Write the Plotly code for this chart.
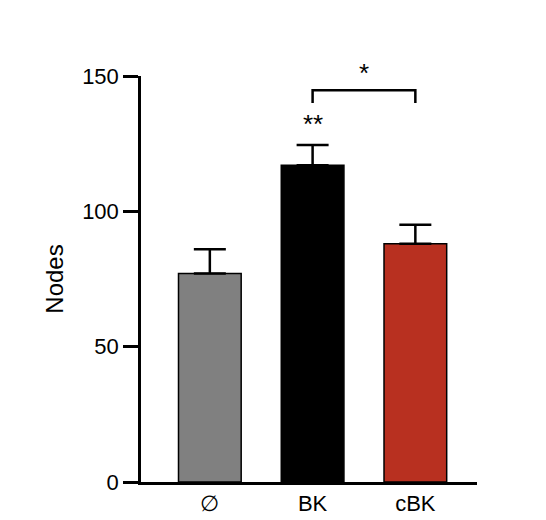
import plotly.graph_objects as go

categories = ["∅", "BK", "cBK"]
means = [77, 117, 88]
errors = [9, 7.5, 7]
colors = ["#808080", "#000000", "#b83020"]

fig = go.Figure()
fig.add_trace(go.Bar(
    x=list(range(len(categories))), y=means, width=0.61,
    marker=dict(color=colors, line=dict(color="black", width=1.5)),
    error_y=dict(type="data", array=errors, arrayminus=[0]*3, symmetric=False,
                 color="black", thickness=2.5, width=16),
))
# significance
fig.add_shape(type="path", path="M 1,140 L 1,144.7 L 2,144.7 L 2,140",
              line=dict(color="black", width=2.5), xref="x", yref="y")
fig.add_annotation(x=1, y=126, text="**", showarrow=False, yanchor="bottom",
                   font=dict(size=26, color="black"))
fig.add_annotation(x=1.5, y=145, text="*", showarrow=False, yanchor="bottom",
                   font=dict(size=26, color="black"))

fig.update_layout(
    width=546, height=520, plot_bgcolor="white", paper_bgcolor="white",
    margin=dict(l=133, r=77, t=68, b=39), showlegend=False,
    font=dict(family="Liberation Sans, Arial", color="black", size=22),
)
fig.update_xaxes(range=[-0.67, 2.6], tickvals=[0, 1, 2], ticktext=categories,
                 showline=True, linecolor="black", linewidth=2.5, ticks="",
                 showgrid=False, zeroline=False)
fig.update_yaxes(range=[0, 150], tickvals=[0, 50, 100, 150], showline=True,
                 linecolor="black", linewidth=2.5, ticks="outside", ticklen=15,
                 tickwidth=2.5, tickcolor="black", showgrid=False, zeroline=False,
                 title=dict(text="Nodes", font=dict(size=24), standoff=12))
fig.write_html("out.html")
